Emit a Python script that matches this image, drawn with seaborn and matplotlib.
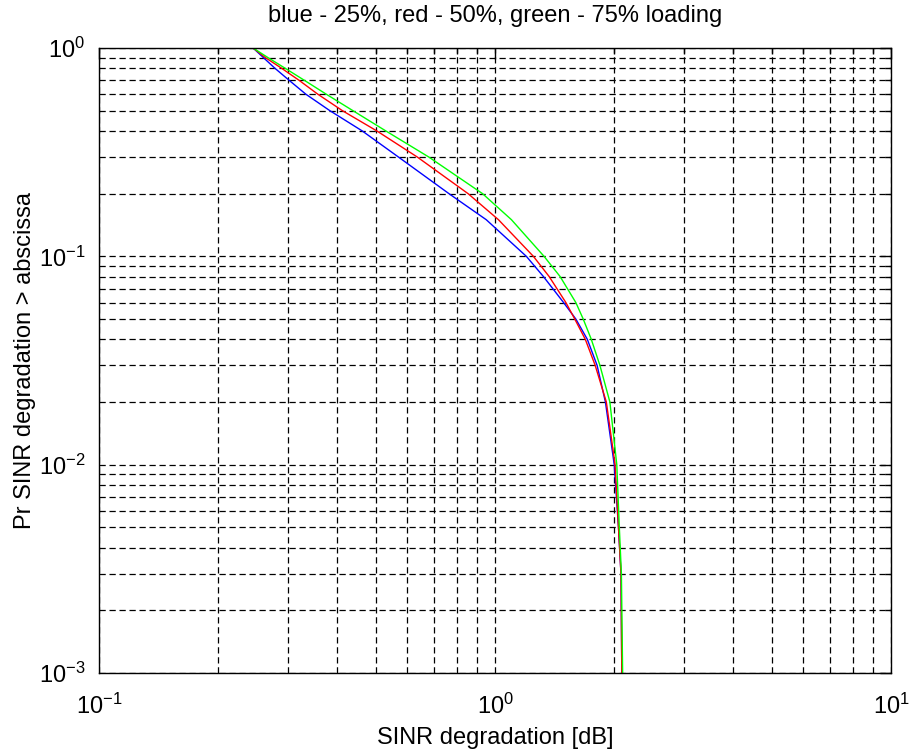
import numpy as np
import pandas as pd
import matplotlib
matplotlib.use("Agg")
import matplotlib.pyplot as plt
import seaborn as sns

# probability levels and the SINR degradation [dB] where each curve crosses them
levels = [1, 1, 0.9, 0.8, 0.7, 0.6, 0.5, 0.4, 0.3, 0.2, 0.15, 0.1, 0.08, 0.06, 0.05, 0.04, 0.03, 0.02, 0.01, 0.005, 0.003, 0.001]
blue_x = [0.1, 0.245, 0.26, 0.278, 0.302, 0.333, 0.383, 0.462, 0.57, 0.765, 0.95, 1.20, 1.325, 1.49, 1.60, 1.71, 1.81, 1.90, 2.0, 2.05, 2.08, 2.09]
red_x = [0.1, 0.245, 0.263, 0.289, 0.32, 0.357, 0.412, 0.503, 0.636, 0.855, 1.02, 1.25, 1.37, 1.51, 1.59, 1.69, 1.79, 1.91, 2.01, 2.05, 2.08, 2.09]
green_x = [0.1, 0.245, 0.267, 0.295, 0.33, 0.375, 0.438, 0.53, 0.68, 0.93, 1.10, 1.33, 1.46, 1.60, 1.67, 1.75, 1.84, 1.95, 2.03, 2.06, 2.085, 2.10]

sns.set_style("white")
plt.rcParams['font.family'] = ['Liberation Sans', 'DejaVu Sans']
plt.rcParams['font.size'] = 17
plt.rcParams['text.color'] = 'black'
plt.rcParams['axes.labelcolor'] = 'black'
plt.rcParams['xtick.color'] = 'black'
plt.rcParams['ytick.color'] = 'black'
plt.rcParams['axes.unicode_minus'] = False

fig = plt.figure(figsize=(9.12, 7.53), dpi=100)
ax = fig.add_axes([0.1086, 0.1062, 0.8684, 0.83])

for xs, col in [(blue_x, '#0000ff'), (red_x, '#ff0000'), (green_x, '#00ff00')]:
    df = pd.DataFrame({'x': xs, 'y': levels})
    sns.lineplot(data=df, x='x', y='y', color=col, linewidth=1.0, sort=False, estimator=None, ax=ax)

ax.set_xscale('log')
ax.set_yscale('log')
ax.set_xlim(0.1, 10)
ax.set_ylim(1e-3, 1)

ax.grid(True, which='both', color='black', linestyle=(0, (5, 3)), linewidth=0.9)
ax.tick_params(which='both', direction='in', top=True, right=True, colors='black', labelsize=17)
ax.tick_params(which='major', length=8, width=1)
ax.tick_params(which='minor', length=4, width=1)
ax.tick_params(axis='y', pad=10)
ax.tick_params(axis='x', pad=15)
for s in ax.spines.values():
    s.set_color('black')
    s.set_linewidth(1)

ax.set_title("blue - 25%, red - 50%, green - 75% loading", fontsize=17, pad=19)
ax.set_xlabel("SINR degradation [dB]", fontsize=17, labelpad=6)
ax.set_ylabel("Pr SINR degradation > abscissa", fontsize=17, labelpad=2)

fig.savefig("out.png", dpi=100)
